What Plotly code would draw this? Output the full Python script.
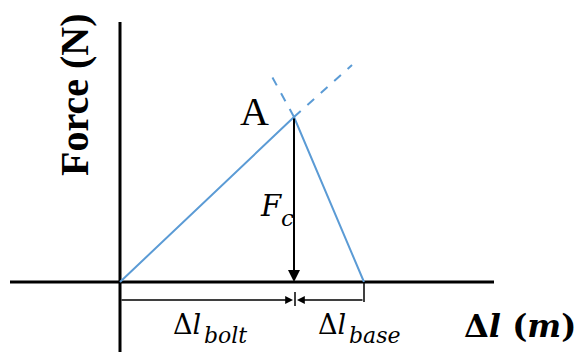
import plotly.graph_objects as go

# Schematic force-elongation diagram for a bolted joint (arbitrary units)
delta_bolt = 174      # elongation of the bolt up to point A
delta_base = 70       # compression of the base
force_c = 165         # clamping force at point A

# Extension (dashed) end points beyond point A
ext_bolt = (232, 217)
ext_base = (150, 209)

BLUE = "#5B9BD5"
SERIF = "Liberation Serif"
MATH = "DejaVu Serif"

fig = go.Figure()

# coordinate axes
fig.add_trace(go.Scatter(x=[-110, 374], y=[0, 0], mode="lines",
                         line=dict(color="black", width=3), hoverinfo="skip"))
fig.add_trace(go.Scatter(x=[0, 0], y=[260, -70], mode="lines",
                         line=dict(color="black", width=3), hoverinfo="skip"))

# bolt and base stiffness lines
fig.add_trace(go.Scatter(x=[0, delta_bolt, delta_bolt + delta_base],
                         y=[0, force_c, 0], mode="lines",
                         line=dict(color=BLUE, width=2), hoverinfo="skip"))
fig.add_trace(go.Scatter(x=[delta_bolt, ext_bolt[0]], y=[force_c, ext_bolt[1]],
                         mode="lines", line=dict(color=BLUE, width=2, dash="dash"),
                         hoverinfo="skip"))
fig.add_trace(go.Scatter(x=[delta_bolt, ext_base[0]], y=[force_c, ext_base[1]],
                         mode="lines", line=dict(color=BLUE, width=2, dash="dash"),
                         hoverinfo="skip"))

# dimension line ticks
dim_y = -18
fig.add_trace(go.Scatter(x=[delta_bolt + delta_base, delta_bolt + delta_base, None,
                            delta_bolt + 1, delta_bolt + 1],
                         y=[0, -20, None, -10, -24], mode="lines",
                         line=dict(color="black", width=1.5), hoverinfo="skip"))

annos = []
# clamping force arrow
annos.append(dict(x=delta_bolt, y=0, ax=delta_bolt, ay=force_c,
                  xref="x", yref="y", axref="x", ayref="y", text="",
                  showarrow=True, arrowhead=2, arrowsize=1.2, arrowwidth=2,
                  arrowcolor="black"))
# bolt elongation dimension
annos.append(dict(x=delta_bolt - 1, y=dim_y, ax=0, ay=dim_y,
                  xref="x", yref="y", axref="x", ayref="y", text="",
                  showarrow=True, arrowhead=2, arrowsize=1.2, arrowwidth=1.3,
                  arrowcolor="black"))
# base compression dimension
annos.append(dict(x=delta_bolt + 3, y=dim_y, ax=delta_bolt + delta_base, ay=dim_y,
                  xref="x", yref="y", axref="x", ayref="y", text="",
                  showarrow=True, arrowhead=2, arrowsize=1.2, arrowwidth=1.3,
                  arrowcolor="black"))


def label(x, y, text, size, family, angle=0, anchor="center"):
    annos.append(dict(x=x, y=y, xref="x", yref="y", text=text, showarrow=False,
                      xanchor=anchor, borderpad=0,
                      font=dict(size=size, family=family, color="black"),
                      textangle=angle))


label(134, 171, "A", 40, SERIF)
label(-46, 187, "<b>Force (N)</b>", 40, SERIF, angle=-90)

# F_c next to the force arrow
label(151, 76, "<i>F</i>", 29, MATH)
label(167, 64, "<i>c</i>", 23, MATH)

# elongation labels below the dimension line
label(52, -42, "Δ<i>l</i>", 27, MATH, anchor="left")
label(83, -53, "<i>bolt</i>", 22, MATH, anchor="left")
label(197, -42, "Δ<i>l</i>", 27, MATH, anchor="left")
label(228, -53, "<i>base</i>", 22, MATH, anchor="left")

# horizontal axis title
label(343, -44, "<b>Δ<i>l</i> (<i>m</i>)</b>", 32, MATH, anchor="left")

fig.update_layout(
    width=585, height=355,
    margin=dict(l=0, r=0, t=0, b=0),
    plot_bgcolor="white", paper_bgcolor="white",
    showlegend=False,
    annotations=annos,
    xaxis=dict(range=[-120, 465], visible=False, fixedrange=True),
    yaxis=dict(range=[-73, 282], visible=False, fixedrange=True),
)

fig.write_html("out.html")
